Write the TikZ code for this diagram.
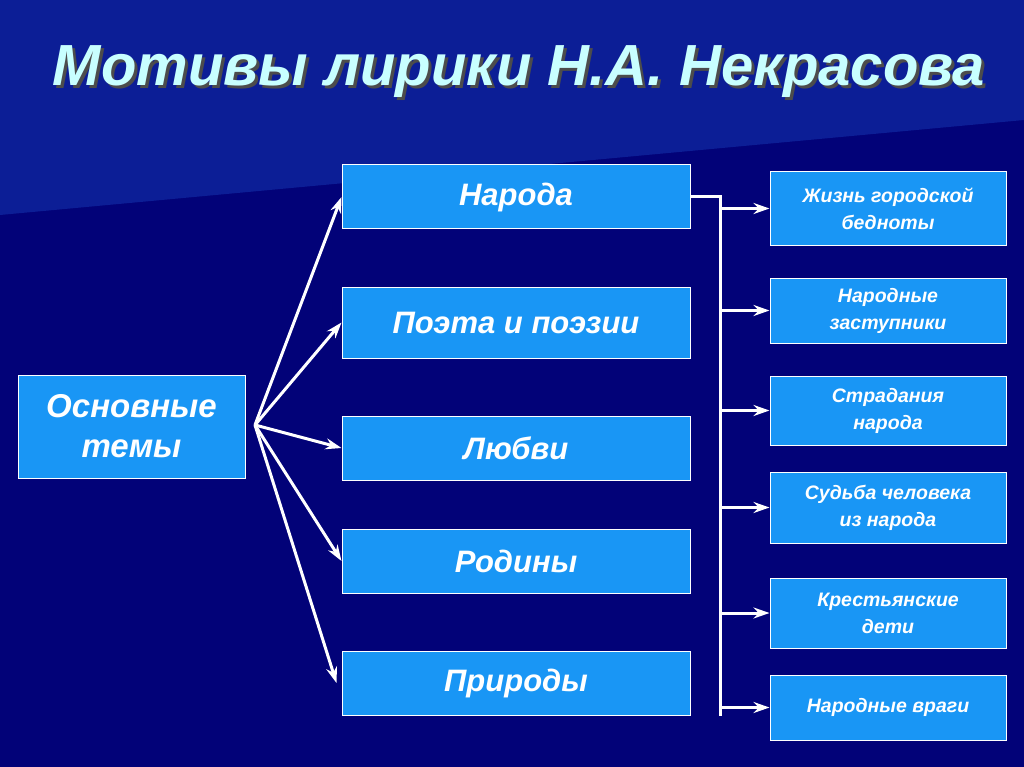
\documentclass[tikz,border=0pt]{standalone}
\usepackage{fontspec}
\setmainfont{Liberation Sans}
\usetikzlibrary{positioning,arrows.meta}
\definecolor{bgnavy}{RGB}{2,2,120}
\definecolor{bgband}{RGB}{12,30,150}
\definecolor{boxblue}{RGB}{25,150,245}
\definecolor{titlecyan}{RGB}{200,255,255}

\begin{document}
\begin{tikzpicture}[
    x=1pt, y=1pt,
    theme/.style={rectangle, draw=white, fill=boxblue, line width=1pt, minimum width=348pt, minimum height=64pt, align=center, text=white, font=\fontsize{31}{36}\selectfont\bfseries\itshape},
    topic/.style={rectangle, draw=white, fill=boxblue, line width=1pt, minimum width=236pt, minimum height=68pt, align=center, text=white, font=\fontsize{19.5}{27}\selectfont\bfseries\itshape},
    arrow/.style={-{Stealth[length=16pt,width=11pt]}, white, line width=3pt}
]
    % Background
    \fill[bgnavy] (0,0) rectangle (1024,-767);
    \fill[bgband] (0,0) -- (1024,0) -- (1024,-120) -- (0,-215) -- cycle;
    \useasboundingbox (0,0) rectangle (1024,-767);

    % Title
    \node[text=black!70, font=\fontsize{58}{64}\selectfont\bfseries\itshape] at (522,-75) {Мотивы лирики Н.А. Некрасова};
    \node[text=titlecyan, font=\fontsize{58}{64}\selectfont\bfseries\itshape] (title) at (519,-72) {Мотивы лирики Н.А. Некрасова};

    % Nodes
    \node[theme, minimum width=227pt, minimum height=103pt, font=\fontsize{33}{40}\selectfont\bfseries\itshape] (main) at (131.5,-426.5) {Основные\\темы};
    \node[theme] (narod) at (516,-197) {Народа};
    \node[theme, minimum height=71pt] (poet) at (516,-322.5) {Поэта и поэзии};
    \node[theme] (love) at (516,-448) {Любви};
    \node[theme] (rodina) at (516,-561) {Родины};
    \node[theme] (priroda) at (516,-683) {Природы};

    \node[topic, minimum height=73pt] (r1) at (888,-208.5) {Жизнь городской\\бедноты};
    \node[topic, minimum height=65pt] (r2) at (888,-310.5) {Народные\\заступники};
    \node[topic, minimum height=69pt] (r3) at (888,-410.5) {Страдания\\народа};
    \node[topic, minimum height=71pt] (r4) at (888,-507.5) {Судьба человека\\из народа};
    \node[topic, minimum height=70pt] (r5) at (888,-613) {Крестьянские\\дети};
    \node[topic, minimum height=65pt] (r6) at (888,-707.5) {Народные враги};

    % Arrows
    \coordinate (fan) at (255,-425);
    \draw[arrow] (fan) -- (narod.west);
    \draw[arrow] (fan) -- (poet.west);
    \draw[arrow] (fan) -- (love.west);
    \draw[arrow] (fan) -- (rodina.west);
    \draw[arrow] (fan) -- ([xshift=-5pt]priroda.west);

    \coordinate (bus) at (720,-197);
    \draw[white, line width=3pt] (narod.east) -- (bus) -- (720,-716);
    \foreach \r in {r1,r2,r3,r4,r5,r6}
        \draw[arrow] (bus |- \r.west) -- (\r.west);

\end{tikzpicture}
\end{document}
